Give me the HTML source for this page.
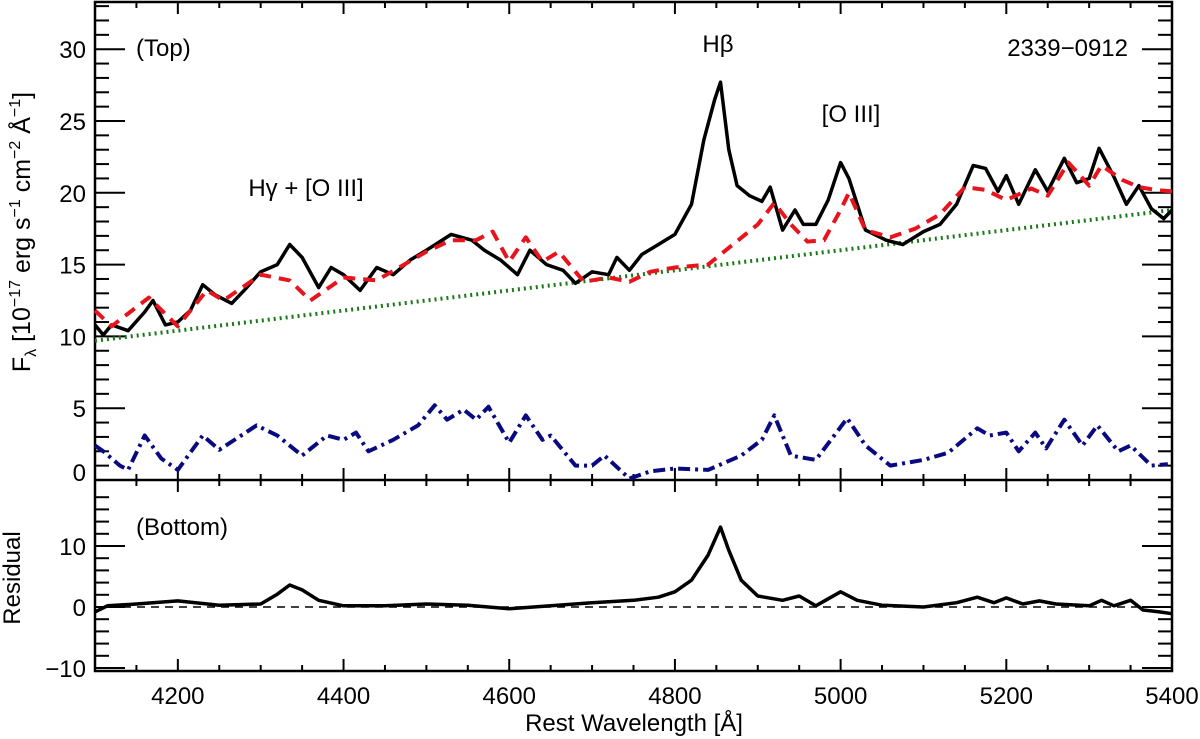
<!DOCTYPE html>
<html><head><meta charset="utf-8"><style>
body{margin:0;background:#fff}
svg{display:block;font-family:"Liberation Sans",sans-serif}
</style></head><body>
<svg id="chart" width="1200" height="739" viewBox="0 0 1200 739">
<g id="axes"></g><g id="series"></g><g id="labels"></g>
</svg>
<script>
const wave = [4100,4110,4120,4140,4160,4170,4185,4200,4215,4230,4245,4265,4280,4300,4320,4335,4350,4370,4385,4400,4420,4440,4460,4480,4500,4530,4555,4570,4590,4610,4625,4645,4665,4680,4700,4720,4730,4745,4760,4780,4800,4820,4835,4848,4855,4865,4875,4890,4905,4915,4930,4945,4955,4970,4985,5000,5010,5030,5055,5075,5100,5120,5140,5160,5175,5190,5200,5215,5235,5250,5270,5285,5300,5312,5330,5345,5360,5375,5390,5400];
const flux = [10.8,10.1,10.8,10.4,11.7,12.5,10.8,11.0,11.8,13.6,12.9,12.3,13.2,14.5,15.0,16.4,15.5,13.4,14.8,14.3,13.2,14.8,14.3,15.3,16.0,17.1,16.7,16.0,15.3,14.3,16.0,15.0,14.6,13.7,14.5,14.3,15.5,14.6,15.7,16.4,17.1,19.2,23.7,26.5,27.7,23.0,20.5,19.8,19.4,20.4,17.4,18.8,17.8,17.8,19.5,22.1,21.0,17.4,16.7,16.4,17.3,17.8,19.2,21.9,21.7,20.1,21.2,19.2,21.6,20.1,22.4,20.7,21.0,23.1,21.1,19.2,20.5,18.9,18.2,18.8];
const modelWave = [4100,4120,4165,4200,4235,4255,4300,4335,4360,4400,4440,4500,4530,4560,4580,4600,4620,4640,4660,4690,4720,4745,4770,4800,4840,4870,4900,4920,4940,4960,4980,5000,5010,5030,5060,5090,5120,5150,5175,5200,5230,5250,5275,5300,5315,5340,5360,5380,5400];
const model = [11.8,10.7,12.7,10.7,13.2,12.5,14.3,13.9,12.5,14.1,13.9,15.9,16.7,16.7,17.3,15.2,16.9,15.2,15.9,13.8,14.1,13.8,14.5,14.8,15.0,16.4,17.8,19.3,17.8,16.6,16.7,18.8,20.0,17.4,16.9,17.5,18.5,20.4,20.2,19.5,20.3,19.8,22.1,20.5,21.9,20.9,20.4,20.2,20.1];
const contWave = [4100,5400];
const cont = [9.7,18.8];
const feWave = [4100,4110,4130,4140,4160,4180,4200,4230,4250,4295,4320,4350,4380,4400,4415,4430,4460,4490,4510,4525,4545,4560,4575,4600,4620,4640,4650,4680,4700,4715,4745,4770,4800,4840,4880,4905,4920,4940,4970,5008,5030,5060,5100,5130,5165,5180,5200,5215,5235,5248,5270,5292,5310,5335,5350,5375,5395];
const fe = [2.4,2.0,1.0,0.7,3.1,1.5,0.7,3.1,2.1,3.8,3.1,1.7,3.1,2.8,3.3,2.0,2.8,3.8,5.2,4.2,4.9,4.2,5.1,2.6,4.5,2.8,3.1,1.0,1.0,1.7,0.1,0.6,0.8,0.7,1.7,2.8,4.5,1.7,1.4,4.3,2.4,1.0,1.4,1.9,3.6,3.1,3.3,2.0,3.3,2.2,4.2,2.4,3.8,2.0,2.4,1.0,1.1];
const resWave = [4100,4115,4150,4200,4250,4300,4320,4335,4350,4370,4400,4450,4500,4550,4600,4650,4700,4750,4780,4800,4820,4840,4855,4865,4880,4900,4930,4950,4970,5000,5020,5050,5100,5140,5165,5185,5200,5220,5240,5260,5300,5315,5330,5350,5365,5385,5400];
const resid = [-0.8,0.2,0.5,1.0,0.3,0.5,2.1,3.6,2.8,1.1,0.2,0.2,0.5,0.3,-0.3,0.2,0.7,1.1,1.6,2.5,4.4,8.5,13.1,9.3,4.4,1.8,1.1,1.8,0.2,2.5,1.1,0.3,0.0,0.7,1.6,0.7,1.5,0.5,1.0,0.5,0.2,1.1,0.2,1.1,-0.5,-0.8,-1.1];
const xTicks = [4200,4400,4600,4800,5000,5200,5400];
const topTicks = [0,5,10,15,20,25,30];
const botTicks = [-10,0,10];

const L=95,R=1172,T=2,MID=480,B=671;
const X=w=>L+(w-4100)*(R-L)/1300;
const YT=v=>MID-v*14.36;
const YB=v=>607-v*6.1;
const NS='http://www.w3.org/2000/svg';
function mk(tag,attrs,parent){const e=document.createElementNS(NS,tag);for(const k in attrs)e.setAttribute(k,attrs[k]);parent.appendChild(e);return e;}
const axes=document.getElementById('axes'),series=document.getElementById('series'),labels=document.getElementById('labels');

let f=mk('rect',{x:L,y:T,width:R-L,height:B-T,fill:'none',stroke:'#000','stroke-width':2.5},axes);


let m=mk('line',{x1:L,x2:R,y1:MID,y2:MID,stroke:'#000','stroke-width':2.5},axes);



for(let w=4100;w<=5400;w+=50){
  const big=w%200===0, len=big?12:6, x=X(w);
  [[T,1],[MID,-1],[MID,1],[B,-1]].forEach(([y,d])=>{const t=mk('line',{x1:x,x2:x,y1:y,y2:y+d*len,stroke:'#000','stroke-width':2},axes);
    
    });
}
xTicks.forEach(w=>{const t=mk('text',{x:X(w),y:704,'font-size':24,'text-anchor':'middle'},labels);t.textContent=w;
  
  });
for(let v=1;v<=33;v++){const big=v%5===0,len=big?30:14,y=YT(v);
  [[L,1],[R,-1]].forEach(([x,d])=>{const t=mk('line',{x1:x,x2:x+d*len,y1:y,y2:y,stroke:'#000','stroke-width':2},axes);
  
  });}
topTicks.forEach(v=>{const y=v===0?472:YT(v);const t=mk('text',{x:86,y:y+9,'font-size':24,'text-anchor':'end'},labels);t.textContent=v;
  
  });
for(let v=-10;v<=18;v+=2){const big=v%10===0,len=big?30:14,y=YB(v);
  [[L,1],[R,-1]].forEach(([x,d])=>{const t=mk('line',{x1:x,x2:x+d*len,y1:y,y2:y,stroke:'#000','stroke-width':2},axes);
  
  });}
botTicks.forEach(v=>{const t=mk('text',{x:86,y:YB(v)+9,'font-size':24,'text-anchor':'end'},labels);t.textContent=(v<0?'\u2212'+(-v):v);
  
  });

function line(xs,ys,Y,attrs,name){const p=xs.map((w,i)=>X(w).toFixed(1)+','+Y(ys[i]).toFixed(1)).join(' ');
  const e=mk('polyline',Object.assign({points:p,fill:'none','stroke-linejoin':'round'},attrs),series);
  
  }
line([4100,5400],[0,0],YB,{stroke:'#000','stroke-width':1.5,'stroke-dasharray':'8,6'},'zero-line');
line(contWave,cont,YT,{stroke:'#1a7a1a','stroke-width':4,'stroke-dasharray':'2,4'},'continuum-line');
line(feWave,fe,YT,{stroke:'#0a0a80','stroke-width':4,'stroke-dasharray':'12,5,3,5'},'fe-template-line');
line(wave,flux,YT,{stroke:'#000','stroke-width':3.5},'spectrum-line');
line(modelWave,model,YT,{stroke:'#e8141c','stroke-width':4,'stroke-dasharray':'12,8'},'model-line');
line(resWave,resid,YB,{stroke:'#000','stroke-width':3.5},'residual-line');

function txt(s,x,y,size,name,anchor){const t=mk('text',{x:x,y:y,'font-size':size,'text-anchor':anchor||'start'},labels);t.textContent=s;
  
  return t;}
txt('(Top)',136,56,24,'top-panel-label');
txt('(Bottom)',136,535,24,'bottom-panel-label');
txt('2339\u22120912',1128,56,24,'object-name','end');
txt('H\u03b2',718,52,24,'hbeta-label','middle');
txt('[O III]',851,122,24,'oiii-label','middle');
txt('H\u03b3 + [O III]',306,196,24,'hgamma-label','middle');
txt('Rest Wavelength [\u00c5]',634,731,24,'x-axis-title','middle');
const yt=mk('text',{transform:'translate(30,232) rotate(-90)','font-size':25,'text-anchor':'middle'},labels);
yt.innerHTML='F<tspan font-size="16" dy="6">\u03bb</tspan><tspan dy="-6"> [10</tspan><tspan font-size="16" dy="-10">\u221217</tspan><tspan dy="10"> erg s</tspan><tspan font-size="16" dy="-10">\u22121</tspan><tspan dy="10"> cm</tspan><tspan font-size="16" dy="-10">\u22122</tspan><tspan dy="10"> \u00c5</tspan><tspan font-size="16" dy="-10">\u22121</tspan><tspan dy="10">]</tspan>';


const rt=mk('text',{transform:'translate(20,578) rotate(-90)','font-size':24,'text-anchor':'middle'},labels);rt.textContent='Residual';


</script>
</body></html>
